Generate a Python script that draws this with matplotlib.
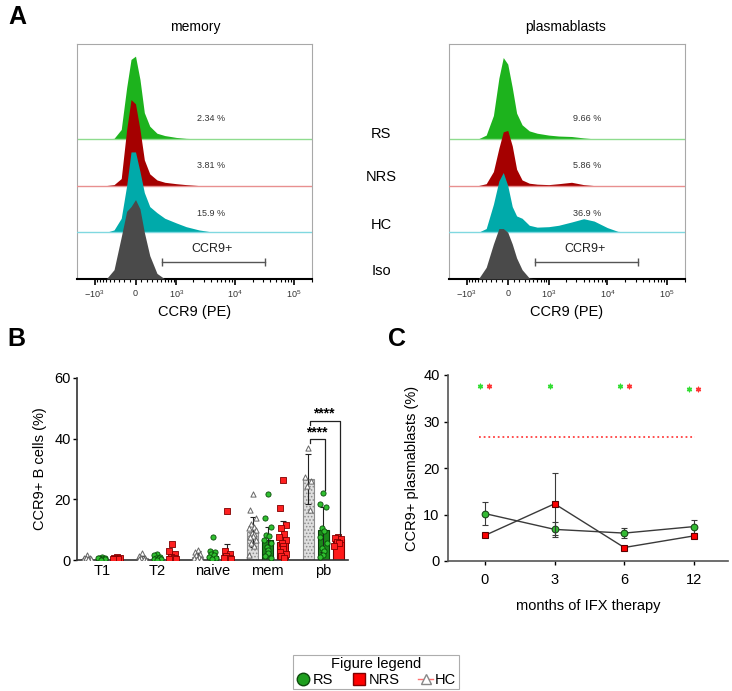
import numpy as np
import matplotlib
matplotlib.use('Agg')
import matplotlib.pyplot as plt
from matplotlib.lines import Line2D

plt.rcParams['font.family'] = ['Liberation Sans', 'DejaVu Sans']
plt.rcParams['mathtext.fontset'] = 'custom'
plt.rcParams['mathtext.rm'] = 'Liberation Sans'
plt.rcParams['mathtext.it'] = 'Liberation Sans:italic'
plt.rcParams['mathtext.bf'] = 'Liberation Sans:bold'
plt.rcParams['hatch.linewidth'] = 0.7
plt.rcParams['hatch.color'] = '#8c8c8c'

W, H = 732, 691

# ---------------- Panel A data (CCR9 PE intensity, histogram heights in lane units)
hist_x = [-1500, -1000, -600, -400, -250, -150, -75, 0, 75, 150, 250, 400, 600,
          1000, 1500, 2500, 4000, 6000, 10000, 15000, 25000, 40000]
mem_RS = [0, 0, 0, 0.01, 0.2, 1.1, 1.7, 1.77, 1.27, 0.56, 0.27, 0.12, 0.07, 0.03, 0.01, 0, 0, 0, 0, 0, 0, 0]
mem_NRS = [0, 0, 0, 0.02, 0.15, 1.2, 1.84, 1.75, 1.2, 0.55, 0.25, 0.12, 0.07, 0.04, 0.02, 0, 0, 0, 0, 0, 0, 0]
mem_HC = [0, 0, 0, 0.05, 0.3, 1.0, 1.72, 1.72, 1.3, 0.85, 0.55, 0.42, 0.3, 0.2, 0.12, 0.05, 0.01, 0, 0, 0, 0, 0]
mem_Iso = [0, 0, 0, 0.2, 0.9, 1.45, 1.55, 1.7, 1.5, 1.0, 0.5, 0.12, 0, 0, 0, 0, 0, 0, 0, 0, 0, 0]
pb_RS = [0, 0, 0, 0.08, 0.5, 1.3, 1.74, 1.6, 1.1, 0.55, 0.3, 0.17, 0.12, 0.08, 0.06, 0.05, 0.02, 0, 0, 0, 0, 0]
pb_NRS = [0, 0, 0, 0.04, 0.3, 0.8, 1.15, 1.18, 0.85, 0.35, 0.12, 0.05, 0.03, 0.02, 0.04, 0.07, 0.02, 0, 0, 0, 0, 0]
pb_HC = [0, 0, 0, 0.08, 0.6, 1.1, 1.28, 1.0, 0.55, 0.35, 0.3, 0.15, 0.11, 0.12, 0.15, 0.22, 0.29, 0.24, 0.1, 0.02, 0, 0]
pb_Iso = [0, 0, 0, 0.25, 0.75, 1.08, 1.08, 1.0, 0.75, 0.45, 0.2, 0.02, 0, 0, 0, 0, 0, 0, 0, 0, 0, 0]
samples = ['RS', 'NRS', 'HC', 'Iso']
mem_pct = ['2.34 %', '3.81 %', '15.9 %']
pb_pct = ['9.66 %', '5.86 %', '36.9 %']
gate_lo = [512, 532]
gate_hi = [32700, 32700]
hist_ticks = [-1000, 0, 1000, 10000, 100000]
hist_ticklabels = [r'$\mathregular{-10^3}$', '0', r'$\mathregular{10^3}$',
                   r'$\mathregular{10^4}$', r'$\mathregular{10^5}$']

# ---------------- Panel B data
cat_B = ['T1', 'T2', 'naive', 'mem', 'pb']
mean_HC = [0.4, 0.6, 1.0, 9.3, 26.7]
sd_HC = [0.4, 0.6, 2.0, 5.0, 8.3]
mean_RS = [0.4, 0.8, 1.3, 6.5, 10.0]
sd_RS = [0.3, 0.6, 1.8, 4.3, 7.5]
mean_NRS = [0.5, 1.2, 1.5, 6.0, 6.8]
sd_NRS = [0.3, 1.5, 3.8, 7.0, 0.5]
pts_HC = [[1.5, 0.8, 0.5, 0.3, 0.2, 0.1, 0.4, 0.6, 0.2],
          [2.2, 1.2, 0.8, 0.5, 0.3, 0.2, 0.1],
          [3.2, 2.5, 2.0, 1.5, 1.0, 0.7, 0.4, 0.2],
          [21.7, 16.5, 14.0, 12.0, 11.0, 10.5, 10.0, 9.0, 8.5, 8.0, 7.5, 6.5, 5.5, 4.5, 1.6],
          [37.0, 27.5, 26.0, 24.5, 16.5]]
pts_RS = [[1.0, 0.8, 0.5, 0.3, 0.2, 0.6, 0.4, 0.1],
          [2.0, 1.5, 1.0, 0.8, 0.5, 0.3, 0.2, 0.1],
          [7.5, 3.0, 2.5, 2.0, 1.5, 1.0, 0.6, 0.3],
          [21.7, 13.8, 10.8, 8.2, 7.8, 6.5, 5.5, 4.2, 3.2, 2.2, 1.2, 0.5],
          [22.2, 18.5, 17.5, 10.5, 9.5, 7.7, 5.5, 4.0, 3.0, 1.8, 1.0]]
pts_NRS = [[1.0, 0.7, 0.5, 0.4, 0.3, 0.2],
           [5.3, 3.0, 2.0, 1.0, 0.5, 0.3, 0.2],
           [16.0, 3.0, 2.0, 1.2, 0.8, 0.5, 0.3],
           [26.4, 17.0, 11.5, 10.4, 8.5, 7.5, 6.5, 5.5, 4.5, 3.5, 2.8, 2.0, 1.2, 0.6],
           [7.5, 7.2, 6.8, 6.0, 5.5, 4.5]]
sig_labels = ['****', '****']

# ---------------- Panel C data
months = ['0', '3', '6', '12']
rs_mean = [10.2, 6.8, 6.0, 7.4]
rs_err = [2.45, 1.6, 1.0, 1.4]
nrs_mean = [5.5, 12.3, 2.9, 5.4]
nrs_err = [0.3, 6.7, 0.3, 0.5]
hc_ref = 26.7
star_rs = [0, 1, 2, 3]
star_nrs = [0, 2, 3]
star_rs_y = [37.6, 37.6, 37.6, 37.0]
star_nrs_y = [37.6, 37.6, 37.0]


def box(l, t, r, b):
    return [l / W, 1 - b / H, (r - l) / W, (b - t) / H]


fig = plt.figure(figsize=(W / 100, H / 100), dpi=100)

fills = ['#1db31d', '#a50000', '#00aaaa', '#4a4a4a']
blines = ['#8fdc8f', '#e89090', '#80d8e0', None]
minor = ([-v for v in range(100, 1000, 100)] + list(range(100, 1000, 100)) +
         list(range(2000, 10000, 1000)) + list(range(20000, 100000, 10000)) + [200000])


def draw_hist(ax, curves, pct, glo, ghi, pct_x):
    ax.set_xscale('asinh', linear_width=430)
    for i, h in enumerate(curves):
        base = 3 - i
        z = 2 + i
        y = base + np.asarray(h, float)
        ax.fill_between(hist_x, base, y, color=fills[i], lw=0, zorder=z)
        if blines[i]:
            ax.axhline(base, color=blines[i], lw=1.0, zorder=z)
    for i, t in enumerate(pct):
        ax.text(pct_x, 3.43 - i * 1.01, t, fontsize=6.5, color='#333333',
                ha='center', va='center', zorder=10)
    ax.plot([glo, ghi], [0.37, 0.37], color='#555555', lw=1.0, zorder=10,
            marker='|', ms=6, mew=1.0)
    ax.text(np.sqrt(glo * ghi), 0.52, 'CCR9+', fontsize=9, ha='center',
            va='bottom', color='#222222', zorder=10)
    ax.set_xlim(-2050, 1.95e5)
    ax.set_ylim(0, 5.03)
    ax.set_yticks([])
    ax.set_xticks(hist_ticks)
    ax.set_xticklabels(hist_ticklabels)
    ax.set_xticks(minor, minor=True)
    ax.tick_params(axis='x', which='major', length=4, width=1.2, labelsize=6.5,
                   pad=3, colors='black', labelcolor='#333333')
    ax.tick_params(axis='x', which='minor', length=2.5, width=0.8)
    for s in ['left', 'top', 'right']:
        ax.spines[s].set_color('#a8a8a8')
        ax.spines[s].set_linewidth(0.8)
    ax.spines['bottom'].set_linewidth(1.5)
    ax.set_xlabel('CCR9 (PE)', fontsize=10.5, labelpad=3)


axL = fig.add_axes(box(77, 44, 312, 279))
draw_hist(axL, [mem_RS, mem_NRS, mem_HC, mem_Iso], mem_pct, gate_lo[0], gate_hi[0], 3935)
axR = fig.add_axes(box(449, 44, 685, 279))
draw_hist(axR, [pb_RS, pb_NRS, pb_HC, pb_Iso], pb_pct, gate_lo[1], gate_hi[1], 4600)

fig.text(195 / W, 1 - 27 / H, 'memory', fontsize=10, ha='center', va='center')
fig.text(566 / W, 1 - 27 / H, 'plasmablasts', fontsize=10, ha='center', va='center')
for s, yy in zip(samples, [134, 177, 225, 271]):
    fig.text(381 / W, 1 - yy / H, s, fontsize=10.5, ha='center', va='center')

fig.text(17 / W, 1 - 17 / H, 'A', fontsize=18, fontweight='bold', ha='center', va='center')
fig.text(16 / W, 1 - 339 / H, 'B', fontsize=18, fontweight='bold', ha='center', va='center')
fig.text(397 / W, 1 - 339 / H, 'C', fontsize=18, fontweight='bold', ha='center', va='center')

# ---------------- Panel B
axB = fig.add_axes(box(77, 378, 348, 560))
xb = np.arange(len(cat_B))
off = 0.27
bw = 0.2


def jitter(n):
    pat = [0.0, -0.05, 0.05, -0.025, 0.025, -0.065, 0.065, -0.012, 0.012]
    return np.array([pat[k % len(pat)] for k in range(n)])


specs = [
    (-off, mean_HC, sd_HC, pts_HC, dict(color='#dedede', edgecolor='#8c8c8c', hatch='.....'),
     dict(marker='^', facecolor='white', edgecolor='#666666', s=14, linewidths=0.7)),
    (0.0, mean_RS, sd_RS, pts_RS, dict(color='#1a8a1a', edgecolor='#0b3d0b'),
     dict(marker='o', facecolor='#2fbf2f', edgecolor='#0a4a0a', s=14, linewidths=0.6)),
    (off, mean_NRS, sd_NRS, pts_NRS, dict(color='#ff1a1a', edgecolor='#7a0000'),
     dict(marker='s', facecolor='#ff2020', edgecolor='#800000', s=14, linewidths=0.6)),
]
for dx, mean, sd, pts, bkw, skw in specs:
    axB.bar(xb + dx, mean, bw, lw=0.8, zorder=2, **bkw)
    axB.errorbar(xb + dx, mean, yerr=sd, fmt='none', ecolor='#222222', elinewidth=0.8,
                 capsize=2.2, capthick=0.8, zorder=3)
    for g, vals in enumerate(pts):
        axB.scatter(xb[g] + dx + jitter(len(vals)), vals, zorder=4, **skw)

# significance brackets (pb: HC vs RS, HC vs NRS)
pbx = xb[4]
axB.plot([pbx - off + 0.03, pbx - off + 0.03, pbx + off + 0.03, pbx + off + 0.03],
         [44.5, 45.9, 45.9, 8.3], color='#222222', lw=0.9, zorder=5)
axB.text(pbx + 0.02, 46.0, sig_labels[0], fontsize=10, fontweight='bold', ha='center', va='bottom')
axB.plot([pbx - off + 0.03, pbx - off + 0.03, pbx + 0.04, pbx + 0.04],
         [38.6, 39.8, 39.8, 23.2], color='#222222', lw=0.9, zorder=5)
axB.text(pbx - off / 2 + 0.02, 39.9, sig_labels[1], fontsize=10, fontweight='bold', ha='center', va='bottom')

axB.set_xlim(-0.45, 4.45)
axB.set_ylim(0, 60)
axB.set_yticks([0, 20, 40, 60])
axB.set_xticks(xb)
axB.set_xticklabels(cat_B)
axB.tick_params(axis='x', length=0, labelsize=10.5, pad=3)
axB.tick_params(axis='y', length=3, labelsize=10.5, width=1, pad=1.5)
for s in ['top', 'right']:
    axB.spines[s].set_visible(False)
for s in ['left', 'bottom']:
    axB.spines[s].set_linewidth(1.2)
    axB.spines[s].set_color('#333333')
axB.set_ylabel('CCR9+ B cells (%)', fontsize=10.5, labelpad=5)

# ---------------- Panel C
axC = fig.add_axes(box(448, 375, 728, 561))
xc = np.arange(len(months))
axC.plot([-0.08, 3.01], [hc_ref, hc_ref], color='#ff4040', lw=1.3,
         linestyle=(0, (1, 1.6)), zorder=2)
axC.errorbar(xc, rs_mean, yerr=rs_err, color='#3a3a3a', lw=1.0, marker='o', ms=4.8,
             mfc='#33bb33', mec='#1a4a1a', mew=0.8, capsize=2.5, elinewidth=0.8,
             capthick=0.8, zorder=3)
axC.errorbar(xc, nrs_mean, yerr=nrs_err, color='#3a3a3a', lw=1.0, marker='s', ms=4.8,
             mfc='#ff0000', mec='#5a0000', mew=0.8, capsize=2.5, elinewidth=0.8,
             capthick=0.8, zorder=4)
axC.scatter(np.array(star_rs) - 0.065, star_rs_y, marker=(6, 2, 0), s=10,
            color='#33dd33', linewidths=1.0, zorder=5)
axC.scatter(np.array(star_nrs) + 0.065, star_nrs_y, marker=(6, 2, 0), s=10,
            color='#ff3333', linewidths=1.0, zorder=5)
axC.set_xlim(-0.53, 3.49)
axC.set_ylim(0, 40)
axC.set_yticks([0, 10, 20, 30, 40])
axC.set_xticks(xc)
axC.set_xticklabels(months)
axC.tick_params(axis='both', length=3, labelsize=10.5, width=1, pad=3)
axC.tick_params(axis='x', pad=6)
for s in ['top', 'right']:
    axC.spines[s].set_visible(False)
for s in ['left', 'bottom']:
    axC.spines[s].set_linewidth(1.2)
    axC.spines[s].set_color('#555555')
axC.set_ylabel('CCR9+ plasmablasts (%)', fontsize=10.5, labelpad=3)
axC.set_xlabel('months of IFX therapy', fontsize=10.5, labelpad=8)

# ---------------- Legend
handles = [
    Line2D([], [], ls='none', marker='o', ms=9, mfc='#1e9e1e', mec='#0e4a0e'),
    Line2D([], [], ls='none', marker='s', ms=9, mfc='#ff0000', mec='#800000'),
    Line2D([], [], color='#ff7070', lw=1, marker='^', ms=7, mfc='white', mec='#888888'),
]
leg = fig.legend(handles, ['RS', 'NRS', 'HC'], loc='center',
                 bbox_to_anchor=(376 / W, 1 - 672 / H), ncol=3, title='Figure legend',
                 fontsize=10.5, title_fontsize=10.5, frameon=True, fancybox=False,
                 edgecolor='#999999', handlelength=1.0, handletextpad=0.15,
                 columnspacing=1.3, borderpad=0.15, labelspacing=0.1)
leg.get_frame().set_linewidth(0.8)

fig.savefig('out.png', dpi=100)
